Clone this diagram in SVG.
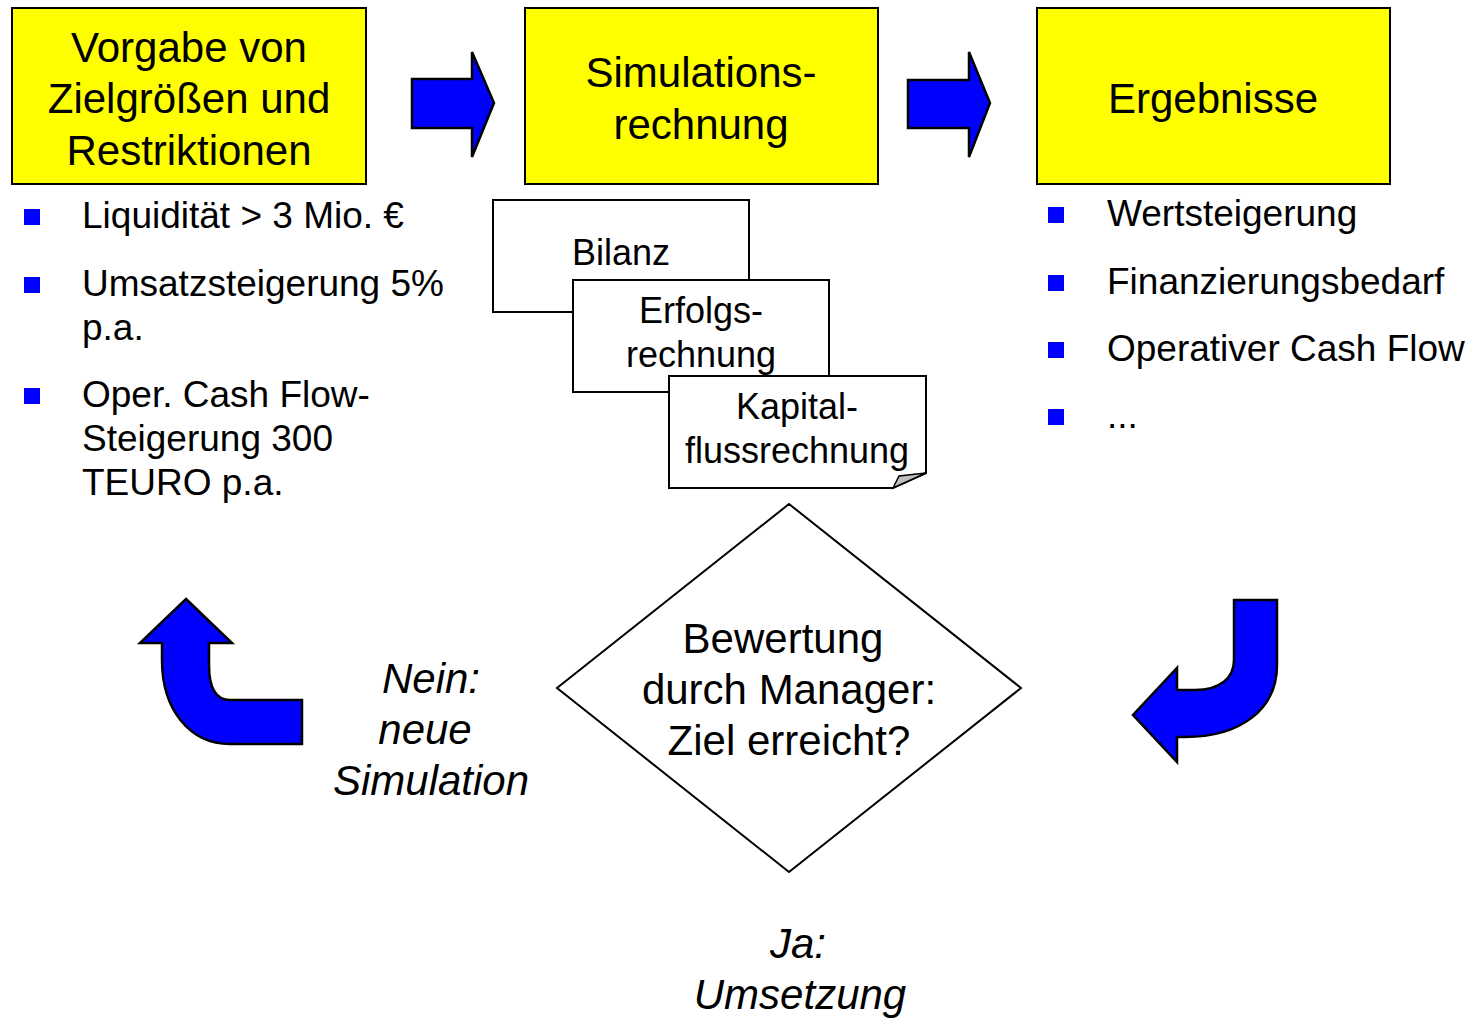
<svg xmlns="http://www.w3.org/2000/svg" width="1470" height="1019" viewBox="0 0 1470 1019">
<style>
text{font-family:"Liberation Sans",Arial,sans-serif;fill:#000}
.big{font-size:42px;text-anchor:middle}
.it{font-size:42px;font-style:italic;text-anchor:middle}
.bul{font-size:37px}
.doc{font-size:36px;text-anchor:middle}
.box{fill:#FFFF00;stroke:#000;stroke-width:2}
.arr{fill:#0000FF;stroke:#000;stroke-width:2.5;stroke-linejoin:miter}
.sq{fill:#0000FF}
.paper{fill:#fff;stroke:#000;stroke-width:2}
</style>
<rect width="1470" height="1019" fill="#fff"/>
<g id="vorgabe">
<rect class="box" x="12" y="8" width="354" height="176"/>
<text class="big" x="189" y="62">Vorgabe von</text>
<text class="big" x="189" y="113">Zielgrößen und</text>
<text class="big" x="189" y="165">Restriktionen</text>
</g>
<g id="simulation">
<rect class="box" x="525" y="8" width="353" height="176"/>
<text class="big" x="701" y="87">Simulations-</text>
<text class="big" x="701" y="139">rechnung</text>
</g>
<g id="ergebnisse">
<rect class="box" x="1037" y="8" width="353" height="176"/>
<text class="big" x="1213" y="113">Ergebnisse</text>
</g>
<g id="ziel-liste">
<rect class="sq" x="24" y="209" width="16" height="16"/>
<text class="bul" x="82" y="228">Liquidität &gt; 3 Mio. €</text>
<rect class="sq" x="24" y="277" width="16" height="16"/>
<text class="bul" x="82" y="296">Umsatzsteigerung 5%</text>
<text class="bul" x="82" y="340">p.a.</text>
<rect class="sq" x="24" y="388" width="16" height="16"/>
<text class="bul" x="82" y="407">Oper. Cash Flow-</text>
<text class="bul" x="82" y="451">Steigerung 300</text>
<text class="bul" x="82" y="495">TEURO p.a.</text>
</g>
<g id="ergebnis-liste">
<rect class="sq" x="1048" y="207" width="16" height="16"/>
<text class="bul" x="1107" y="226">Wertsteigerung</text>
<rect class="sq" x="1048" y="275" width="16" height="16"/>
<text class="bul" x="1107" y="294">Finanzierungsbedarf</text>
<rect class="sq" x="1048" y="342" width="16" height="16"/>
<text class="bul" x="1107" y="361">Operativer Cash Flow</text>
<rect class="sq" x="1048" y="409" width="16" height="16"/>
<text class="bul" x="1107" y="428">...</text>
</g>
<g id="bilanz">
<rect class="paper" x="493" y="200" width="256" height="112"/>
<text class="doc" x="621" y="265">Bilanz</text>
</g>
<g id="erfolgsrechnung">
<rect class="paper" x="573" y="280" width="256" height="112"/>
<text class="doc" x="701" y="323">Erfolgs-</text>
<text class="doc" x="701" y="367">rechnung</text>
</g>
<g id="kapitalflussrechnung">
<path class="paper" d="M669,376 L926,376 L926,473 L893,488 L669,488 Z"/>
<path d="M893,488 L899,476 L926,473 Z" fill="#c0c0c0" stroke="#000" stroke-width="1.5"/>
<text class="doc" x="797" y="419">Kapital-</text>
<text class="doc" x="797" y="463">flussrechnung</text>
</g>
<g id="bewertung">
<path d="M789,504 L1021,688 L789,872 L557,688 Z" fill="#fff" stroke="#000" stroke-width="2"/>
<text class="big" x="783" y="653">Bewertung</text>
<text class="big" x="789" y="704">durch Manager:</text>
<text class="big" x="789" y="755">Ziel erreicht?</text>
</g>
<g id="labels">
<text class="it" x="431" y="693">Nein:</text>
<text class="it" x="425" y="744">neue</text>
<text class="it" x="431" y="795">Simulation</text>
<text class="it" x="798" y="958">Ja:</text>
<text class="it" x="800" y="1009">Umsetzung</text>
</g>
<g id="connectors">
<path class="arr" d="M412,79 L472,79 L472,52 L494,103 L472,157 L472,128 L412,128 Z"/>
<path class="arr" d="M908,80 L969,80 L969,52 L990,103 L969,157 L969,128 L908,128 Z"/>
<path class="arr" d="M1234,600 L1277,600 L1277,665 C1277,710 1240,737 1185,737 L1177,737 L1177,762 L1133,715 L1177,668 L1177,690 L1195,690 C1220,690 1234,678 1234,660 Z"/>
<path class="arr" d="M186,599 L232,643 L209,643 L209,665 C209,688 216,700 230,700 L302,700 L302,744 L230,744 C190,744 162,710 162,660 L162,643 L140,643 Z"/>
</g>
</svg>
